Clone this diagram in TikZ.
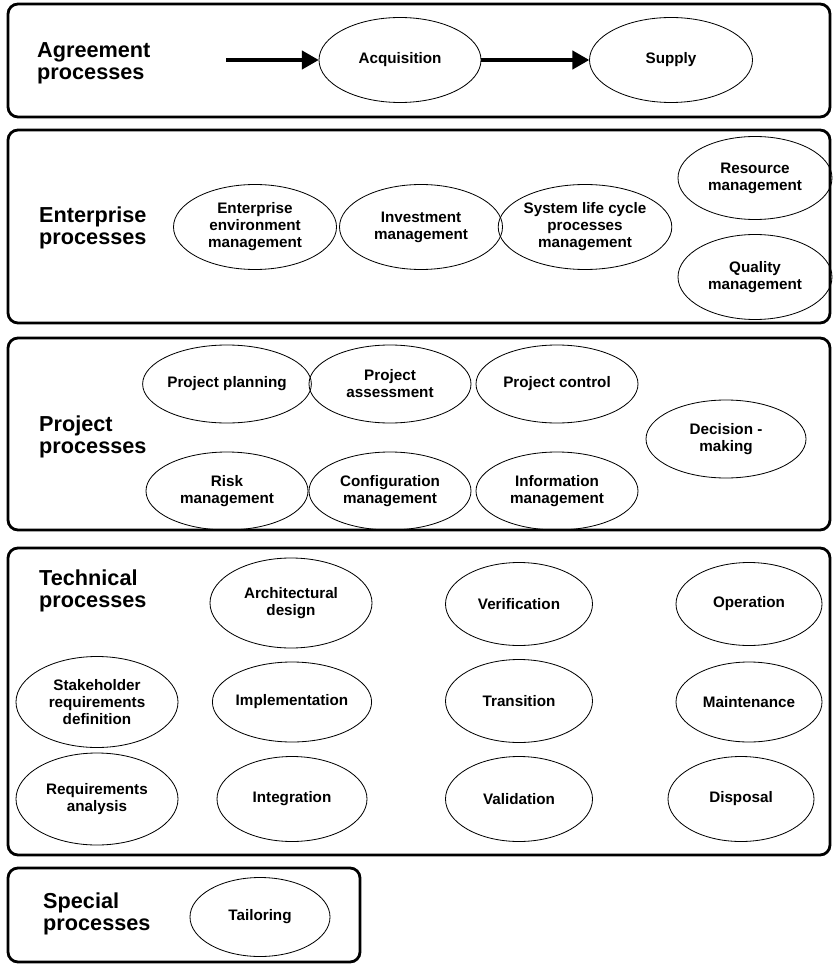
\documentclass[tikz,border=0pt]{standalone}
\usepackage{fontspec}
\setmainfont{Liberation Sans}
\usetikzlibrary{ shapes.geometric, % For the ellipse nodes
                 fit,              % For the boxes round each group
                 arrows,
               }
\tikzstyle{flow} = [-triangle 60, line width=3pt]
\tikzstyle{proc} = [ellipse, draw=black, line width=0.7pt, inner sep=0pt, minimum width=4.86cm, minimum height=2.55cm, align=center, font=\bfseries\fontsize{13}{14.5}\selectfont]
\tikzstyle{group} = [rectangle, draw=black, line width=2.4pt, rounded corners=0.3cm, inner sep=0pt]
\tikzstyle{title} = [anchor=west, align=left, inner sep=0pt, font=\bfseries\fontsize{18.5}{19}\selectfont]

\begin{document}
\begin{tikzpicture}[x=0.03cm, y=-0.03cm]
  \useasboundingbox (0, 0) rectangle (834, 965);

  % Agreement processes
  \node (agr) [group, fit={(8, 4) (830, 117)}] {};
  \node (agr_l) [title] at (37, 63) {Agreement\\processes};
  \node (acq) [proc, minimum width=4.86cm] at (400, 60) {Acquisition};
  \node (sup) [proc, minimum width=4.89cm] at (671, 60) {Supply};
  \coordinate (agr_in) at (226, 60);
  \draw [flow] (agr_in) -- (acq);
  \draw [flow] (acq) -- (sup);

  % Enterprise processes
  \node (ent) [group, fit={(8, 130) (830, 323)}] {};
  \node (ent_l) [title] at (39, 228) {Enterprise\\processes};
  \node (env) [proc, minimum width=4.89cm] at (255, 227) {Enterprise\\environment\\management};
  \node (inv) [proc, minimum width=4.89cm] at (421, 227) {Investment\\management};
  \node (slc) [proc, minimum width=4.8cm] at (585, 227) {System life cycle\\processes\\management};
  \node (res) [proc, minimum width=4.62cm, minimum height=2.49cm] at (755, 178) {Resource\\management};
  \node (qua) [proc, minimum width=4.62cm] at (755, 277) {Quality\\management};

  % Project processes
  \node (prj) [group, fit={(8, 338) (830, 530)}] {};
  \node (prj_l) [title] at (39, 437) {Project\\processes};
  \node (plan) [proc, minimum height=2.34cm] at (227, 384) {Project planning};
  \node (assess) [proc, minimum height=2.34cm] at (390, 384) {Project\\assessment};
  \node (ctrl) [proc, minimum height=2.34cm] at (557, 384) {Project control};
  \node (risk) [proc, minimum height=2.34cm] at (227, 491) {Risk\\management};
  \node (conf) [proc, minimum height=2.34cm] at (390, 491) {Configuration\\management};
  \node (info) [proc, minimum height=2.34cm] at (557, 491) {Information\\management};
  \node (dec) [proc, minimum width=4.8cm, minimum height=2.34cm] at (726, 439) {Decision -\\making};

  % Technical processes
  \node (tec) [group, fit={(8, 548) (830, 855)}] {};
  \node (tec_l) [title] at (39, 591) {Technical\\processes};
  \node (stake) [proc, minimum height=2.73cm] at (97, 702) {Stakeholder\\requirements\\definition};
  \node (reqa) [proc, minimum height=2.76cm] at (97, 799) {Requirements\\analysis};
  \node (arch) [proc, minimum height=2.7cm] at (291, 603) {Architectural\\design};
  \node (impl) [proc, minimum width=4.5cm, minimum height=2.4cm] at (292, 702) {Implementation};
  \node (integ) [proc, minimum width=4.5cm] at (292, 799) {Integration};
  \node (verif) [proc, minimum width=4.41cm, minimum height=2.49cm] at (519, 604) {Verification};
  \node (trans) [proc, minimum width=4.41cm, minimum height=2.49cm] at (519, 701) {Transition};
  \node (valid) [proc, minimum width=4.41cm] at (519, 799) {Validation};
  \node (oper) [proc, minimum width=4.38cm, minimum height=2.49cm] at (749, 604) {Operation};
  \node (maint) [proc, minimum width=4.38cm, minimum height=2.4cm] at (749, 702) {Maintenance};
  \node (disp) [proc, minimum width=4.38cm] at (741, 799) {Disposal};

  % Special processes
  \node (spe) [group, fit={(8, 868) (360, 962)}] {};
  \node (spe_l) [title] at (43, 914) {Special\\processes};
  \node (tail) [proc, minimum width=4.2cm, minimum height=2.37cm] at (260, 917) {Tailoring};
\end{tikzpicture}
\end{document}
